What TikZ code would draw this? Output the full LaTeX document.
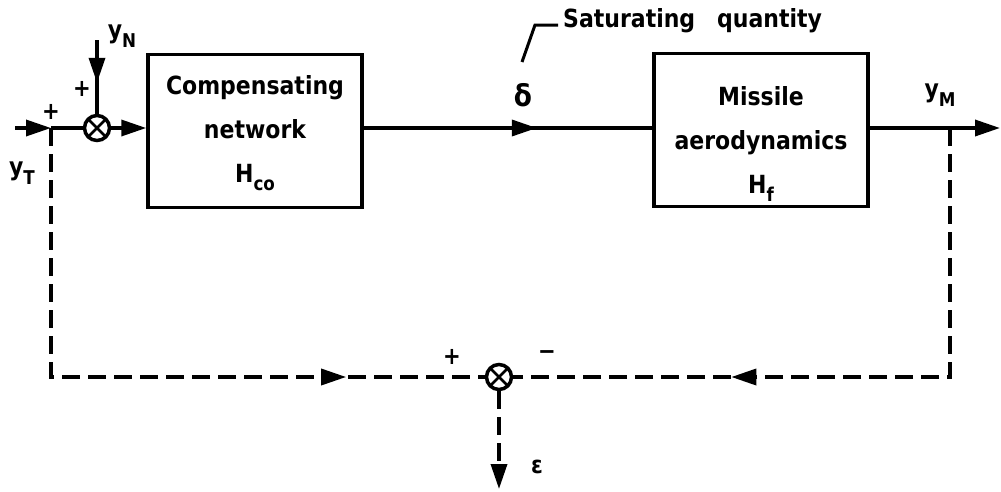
\documentclass[tikz,border=0pt]{standalone}
\usepackage{fontspec}
\setmainfont{DejaVu Sans}[FakeStretch=0.88]
\usetikzlibrary{arrows.meta,decorations.markings,calc}
\newcommand\lsub[1]{\raisebox{-0.34em}{\fontsize{19}{19}\selectfont #1}}
\begin{document}
\begin{tikzpicture}[x=1pt,y=-1pt,
  every node/.style={font=\bfseries\fontsize{25}{44}\selectfont, inner sep=0pt},
  ln/.style={line width=3.5pt},
  dsh/.style={line width=3.5pt, dash pattern=on 18pt off 8pt},
  tip/.style={-{Triangle[length=25pt,width=16pt]}},
  midarrow/.style={postaction={decorate}, decoration={markings, mark=at position #1 with {\arrow{Triangle[length=25pt,width=16pt]}}}},
  blk/.style={draw, line width=3.5pt, minimum width=214pt, minimum height=153pt},
  sumj/.style={circle, draw, line width=3.5pt, minimum size=25pt,
    path picture={\draw[line width=2.5pt] (path picture bounding box.north west)--(path picture bounding box.south east) (path picture bounding box.north east)--(path picture bounding box.south west);}},
  sgn/.style={font=\bfseries\fontsize{24}{24}\selectfont}
]
\useasboundingbox (0,0) rectangle (1001,491);

% coordinates
\coordinate (in) at (15,128);
\coordinate (jT) at (51,128);
\coordinate (nTop) at (97,40);
\coordinate (jM) at (950,128);
\coordinate (out) at (1000,128);
\coordinate (cBL) at (51,377);
\coordinate (cBR) at (950,377);
\coordinate (eps) at (499,489);

% blocks
\node[sumj] (s1) at (97,128) {};
\node[blk] (co) at (255,131) {};
\node[align=center] (cot) at (255,133) {Compensating\\network\\H\lsub{co}};
\node[blk] (ma) at (761,130) {};
\node[align=center] (mat) at (761,144) {Missile\\aerodynamics\\H\lsub{f}};
\node[sumj] (s2) at (499,377) {};

% solid connectors
\draw[ln,tip] (in) -- (jT);
\draw[ln] (jT) -- (s1.west);
\draw[ln,midarrow=0.58] (nTop) -- (s1.north);
\draw[ln,tip] (s1.east) -- (s1 -| co.west);
\draw[ln,midarrow=0.6] (co.east |- jT) -- (ma.west |- jT);
\draw[ln,tip] (ma.east |- jT) -- (out);

% dashed connectors
\draw[dsh,midarrow=0.797] (jT) -- (cBL) -- (s2.west);
\draw[dsh,midarrow=0.682] (jM) -- (cBR) -- (s2.east);
\draw[dsh,tip] (s2.south) -- (eps);

% labels
\node[sgn] (pT) at (51,112) {+};
\node[sgn] (pN) at (82,89) {+};
\node[sgn] (p2) at (452,357) {+};
\node[sgn] (mi) at (547,355) {−};
\node (yN) at (122,36) {y\lsub{N}};
\node (yT) at (22,173) {y\lsub{T}};
\node (yM) at (940,95) {y\lsub{M}};
\node (dl) at (523,95) {\fontsize{30}{30}\selectfont δ};
\node (ep) at (537,467) {\fontsize{24}{24}\selectfont ε};
\node[anchor=base west] (sat) at (563,27) {Saturating\hspace{22pt}quantity};
\coordinate (ld0) at (522,62);
\coordinate (ld1) at (535,25);
\coordinate (ld2) at (558,25);
\draw[line width=3pt] (ld0) -- (ld1) -- (ld2);
\end{tikzpicture}
\end{document}
